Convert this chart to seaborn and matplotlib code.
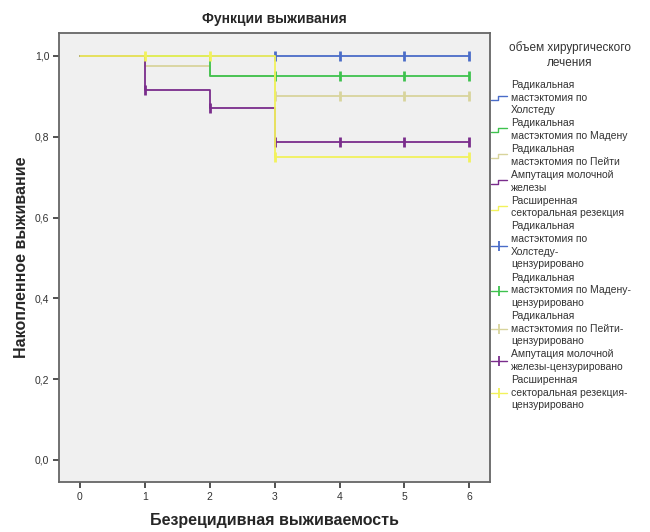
import pandas as pd
import matplotlib
matplotlib.use("Agg")
import matplotlib.pyplot as plt
import seaborn as sns
from matplotlib.legend_handler import HandlerBase
from matplotlib.lines import Line2D

# ── data ─────────────────────────────────────────────────────────────────────
groups = ["Радикальная\nмастэктомия по\nХолстеду",
          "Радикальная\nмастэктомия по Мадену",
          "Радикальная\nмастэктомия по Пейти",
          "Ампутация молочной\nжелезы",
          "Расширенная\nсекторальная резекция"]
censor_labels = ["Радикальная\nмастэктомия по\nХолстеду-\nцензурировано",
                 "Радикальная\nмастэктомия по Мадену-\nцензурировано",
                 "Радикальная\nмастэктомия по Пейти-\nцензурировано",
                 "Ампутация молочной\nжелезы-цензурировано",
                 "Расширенная\nсекторальная резекция-\nцензурировано"]
colors = ["#4a6cc8", "#3ec24e", "#d8d49c", "#7a2d8c", "#f2f25c"]

step_times = [[0, 6], [0, 2, 6], [0, 1, 2, 3, 6], [0, 1, 2, 3, 6], [0, 3, 6]]
step_surv = [[1.0, 1.0], [1.0, 0.95, 0.95], [1.0, 0.975, 0.95, 0.90, 0.90],
             [1.0, 0.917, 0.87, 0.787, 0.787], [1.0, 0.75, 0.75]]
cens_times = [[3, 4, 5, 6], [3, 4, 5, 6], [3, 4, 5, 6],
              [1, 2, 3, 4, 5, 6], [1, 2, 3, 6]]
cens_surv = [[1.0] * 4, [0.95] * 4, [0.90] * 4,
             [0.917, 0.87, 0.787, 0.787, 0.787, 0.787], [1.0, 1.0, 0.75, 0.75]]

x_ticks = [0, 1, 2, 3, 4, 5, 6]
y_ticks = [0.0, 0.2, 0.4, 0.6, 0.8, 1.0]

steps = pd.DataFrame([(g, t, s) for g, ts, ss in zip(groups, step_times, step_surv)
                      for t, s in zip(ts, ss)], columns=["group", "time", "surv"])
cens = pd.DataFrame([(g, t, s) for g, ts, ss in zip(groups, cens_times, cens_surv)
                     for t, s in zip(ts, ss)], columns=["group", "time", "surv"])

sns.set_theme(style="white")
plt.rcParams["font.family"] = ["Liberation Sans", "DejaVu Sans"]

fig = plt.figure(figsize=(6.5, 5.32), dpi=100)
ax = fig.add_axes([0.091, 0.094, 0.663, 0.844])
ax.set_facecolor("#f0f0f0")

zord = [3, 5, 4, 6, 7]
for g, c, z in zip(groups, colors, zord):
    sub = steps[steps["group"] == g]
    sns.lineplot(data=sub, x="time", y="surv", color=c, lw=1.3,
                 drawstyle="steps-post", ax=ax, zorder=z, legend=False)
    csub = cens[cens["group"] == g]
    sns.scatterplot(data=csub, x="time", y="surv", color=c, marker="|",
                    s=55, linewidth=2.0, ax=ax, zorder=z + 0.5, legend=False)

ax.set_xlim(-0.32, 6.32)
ax.set_ylim(-0.055, 1.057)
ax.set_xticks(x_ticks)
ax.set_yticks(y_ticks)
ax.set_yticklabels([f"{v:.1f}".replace(".", ",") for v in y_ticks])
ax.tick_params(axis="both", direction="out", length=4, width=1.2,
               color="#333333", labelsize=7.5, labelcolor="#333333", pad=3,
               bottom=True, left=True)
for sp in ax.spines.values():
    sp.set_color("#666666")
    sp.set_linewidth(1.3)

ax.set_xlabel("Безрецидивная выживаемость", fontsize=11.5, fontweight="bold", labelpad=8)
ax.set_ylabel("Накопленное выживание", fontsize=11.5, fontweight="bold", labelpad=4)
ax.set_title("Функции выживания", fontsize=10, fontweight="bold", pad=7)


# ── legend with step icons ───────────────────────────────────────────────────
class StepHandler(HandlerBase):
    def create_artists(self, legend, orig_handle, xdescent, ydescent,
                       width, height, fontsize, trans):
        xs = [-xdescent, -xdescent + 0.45 * width, -xdescent + 0.45 * width,
              -xdescent + width]
        y0 = -ydescent + 0.2 * height
        y1 = -ydescent + 0.75 * height
        ln = Line2D(xs, [y0, y0, y1, y1], color=orig_handle.get_color(),
                    lw=1.0, transform=trans)
        return [ln]


step_handles = [Line2D([], [], color=c) for c in colors]
cens_handles = [Line2D([0, 1], [0, 0], color=c, lw=1.0, marker="|", ms=7, mew=1.3)
                for c in colors]
handler_map = {h: StepHandler() for h in step_handles}

fig.text(570 / 650, 1 - 55 / 532, "объем хирургического\nлечения", fontsize=8.5,
         ha="center", va="center", multialignment="center", color="#333333",
         linespacing=1.25)

leg = fig.legend(step_handles + cens_handles, groups + censor_labels,
                 handler_map=handler_map, loc="upper left",
                 bbox_to_anchor=(0.755, 1 - 80 / 532), frameon=False,
                 fontsize=7.5, handlelength=1.6, handletextpad=0.35,
                 labelspacing=0.3, borderaxespad=0, borderpad=0)
for t in leg.get_texts():
    t.set_color("#333333")
    t.set_linespacing(1.33)

fig.savefig("out.png", dpi=100)
